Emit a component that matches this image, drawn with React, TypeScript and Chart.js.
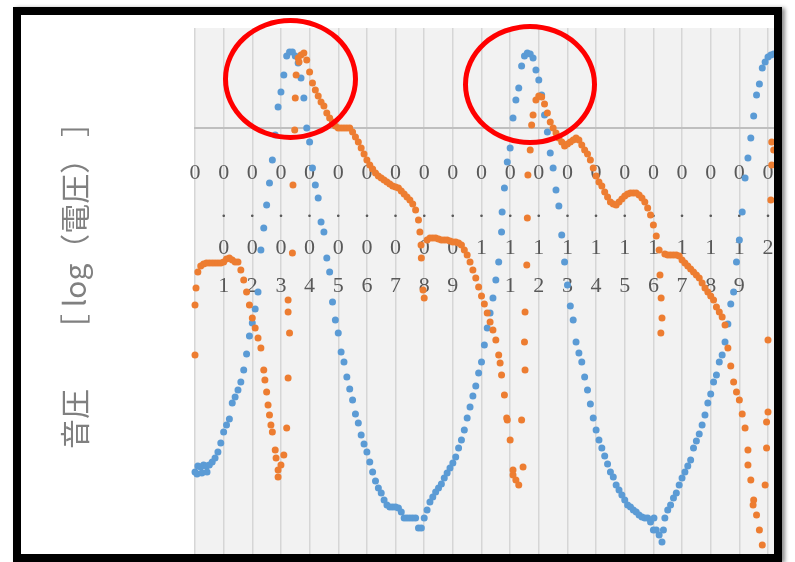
import { useEffect, useRef } from "react";
import { Chart, registerables } from "chart.js";

Chart.register(...registerables);

// sample interval of the uniform series (milliseconds)
const SAMPLE_MS = 1;

// 音圧 (blue) — log values, one per ms starting at 0 ms
const pressureLog = [
  -3.44, -3.38, -3.39, -3.37, -3.38, -3.37, -3.34, -3.30, -3.24, -3.15,
  -3.04, -2.97, -2.91, -2.75, -2.69, -2.62, -2.54, -2.42, -2.26, -2.08,
  -1.95, -1.81, -1.64, -1.22, -1.00, -0.77, -0.55, -0.32, -0.07, 0.21,
  0.36, 0.53, 0.72, 0.76, 0.76, 0.72, 0.65, 0.50, 0.30, 0.00,
  -0.14, -0.40, -0.57, -0.70, -0.94, -1.04, -1.30, -1.44, -1.74, -1.92,
  -2.05, -2.24, -2.34, -2.49, -2.61, -2.72, -2.86, -2.95, -3.07, -3.16,
  -3.24, -3.34, -3.44, -3.53, -3.60, -3.65, -3.72, -3.77, -3.79, -3.79,
  -3.79, -3.80, -3.84, -3.90, -3.90, -3.90, -3.90, -3.90, -4.00, -4.00,
  -3.90, -3.82, -3.74, -3.69, -3.64, -3.60, -3.56, -3.50, -3.45, -3.40,
  -3.35, -3.29, -3.20, -3.12, -3.02, -2.90, -2.79, -2.68, -2.58, -2.45,
  -2.34, -2.17, -2.00, -1.85, -1.70, -1.52, -1.34, -1.04, -0.60, -0.34,
  -0.20, 0.10, 0.28, 0.40, 0.62, 0.72, 0.75, 0.74, 0.70, 0.58,
  0.48, 0.33, 0.13, -0.04, -0.25, -0.40, -0.62, -0.78, -1.07, -1.34,
  -1.57, -1.78, -1.92, -2.14, -2.25, -2.34, -2.49, -2.62, -2.76, -2.90,
  -3.02, -3.12, -3.20, -3.28, -3.36, -3.44, -3.49, -3.57, -3.62, -3.67,
  -3.72, -3.77, -3.79, -3.82, -3.84, -3.87, -3.89, -3.90, -3.90, -3.94,
  -4.02, -4.02, -4.07, -4.14, -3.90, -3.82, -3.77, -3.70, -3.65, -3.57,
  -3.50, -3.44, -3.38, -3.32, -3.20, -3.13, -3.06, -2.97, -2.87, -2.75,
  -2.66, -2.54, -2.47, -2.34, -2.27, -2.14, -1.96, -1.76, -1.64, -1.34,
  -1.12, -0.84, -0.50, -0.30, -0.10, 0.12, 0.33, 0.44, 0.60, 0.66,
  0.71, 0.73, 0.74,
];

// extra 音圧 samples (time ms, log value)
const pressureExtraT = [0.7, 2.4, 4.2, 107.2, 160.2, 163.5];
const pressureExtraV = [-3.46, -3.45, -3.44, -0.84, -3.90, -4.02];

// 電圧 (orange) — log values, one per ms starting at 0 ms
const voltageLog = [
  -1.77, -1.44, -1.38, -1.36, -1.35, -1.35, -1.35, -1.35, -1.35, -1.35,
  -1.34, -1.31, -1.30, -1.32, -1.34, -1.34, -1.42, -1.52, -1.64, -1.77,
  -1.90, -2.00, -2.10, -2.20, -2.42, -2.64, -2.87, -3.04, -3.22, -3.42,
  -3.37, -3.27, -3.00, -2.05, -1.25, 0.30, 0.70, 0.73, 0.75, 0.68,
  0.56, 0.45, 0.38, 0.32, 0.26, 0.22, 0.15, 0.10, 0.06, 0.02,
  0.00, 0.00, 0.00, 0.00, 0.00, -0.04, -0.09, -0.14, -0.20, -0.26,
  -0.32, -0.37, -0.41, -0.45, -0.48, -0.50, -0.52, -0.54, -0.56, -0.58,
  -0.59, -0.60, -0.63, -0.66, -0.69, -0.72, -0.76, -0.82, -0.92, -1.30,
  -1.70, -1.12, -1.10, -1.10, -1.10, -1.11, -1.12, -1.12, -1.12, -1.13,
  -1.14, -1.14, -1.15, -1.17, -1.22, -1.27, -1.34, -1.42, -1.50, -1.59,
  -1.68, -1.76, -1.85, -1.94, -2.02, -2.12, -2.27, -2.47, -2.67, -2.92,
  -3.12, -3.42, -3.52, -3.57, -2.92, -2.14, -0.90, -0.22, 0.13, 0.28,
  0.32, 0.31, 0.24, 0.15, 0.06, 0.00, -0.05, -0.10, -0.14, -0.18,
  -0.16, -0.14, -0.12, -0.10, -0.12, -0.17, -0.22, -0.26, -0.32, -0.40,
  -0.48, -0.54, -0.58, -0.64, -0.69, -0.74, -0.76, -0.77, -0.74, -0.71,
  -0.68, -0.66, -0.65, -0.65, -0.65, -0.67, -0.70, -0.74, -0.80, -0.87,
  -0.97, -1.08, -1.22, -1.90, -1.26, -1.27, -1.27, -1.27, -1.27, -1.28,
  -1.32, -1.35, -1.38, -1.41, -1.44, -1.47, -1.50, -1.55, -1.60, -1.64,
  -1.68, -1.72, -1.79, -1.84, -1.89, -1.97, -2.20, -2.38, -2.54, -2.64,
  -2.72, -2.86, -3.00, -3.22, -3.52, -3.72, -3.87, -4.02, -4.17, -3.57,
  -2.84, -0.72, -0.22,
];

// extra 電圧 samples (time ms, log value) — fast transitions
const voltageExtraT = [
  0, 0.35, 24.4, 25.5, 26.5, 28.3, 29.0, 32.5, 32.5, 32.5,
  34.2, 34.8, 35.3, 36.3, 78.5, 78.9, 79.6, 106.5, 108.8, 111.0,
  114.5, 115.2, 115.2, 115.8, 116.2, 117.5, 162.3, 162.7, 162.6, 193.0,
  194.8, 199.5, 199.5, 200.0, 201.3, 201.3,
];
const voltageExtraV = [
  -2.27, -1.60, -2.52, -2.77, -2.97, -3.30, -3.49, -2.50, -1.84, -1.72,
  -0.57, -0.02, 0.53, 0.66, -1.04, -1.17, -1.62, -2.35, -2.90, -3.47,
  -3.39, -2.42, -1.84, -1.37, -0.47, 0.03, -1.47, -1.70, -2.05, -3.37,
  -3.77, -2.94, -3.20, -2.12, -0.14, -0.37,
];

// axes
const X_MIN_MS = 0;
const X_MAX_MS = 210;
const X_TICK_MS = 10;
const Y_MIN = -4.3;
const Y_MAX = 1;
const Y_TITLE = "　音圧　　［ log（電圧） ］";

const BLUE = "#5b9bd5";
const ORANGE = "#ed7d31";

const CANVAS_W = 830;
const CANVAS_H = 580;
const PLOT_LEFT = 195;
const PLOT_TOP = 28;
const PLOT_RIGHT = 796.65;
const PLOT_BOTTOM = 558;

function buildPoints(values: number[], extraT: number[], extraV: number[]) {
  const pts = values.map((v, i) => ({ x: i * SAMPLE_MS, y: v }));
  extraT.forEach((t, k) => pts.push({ x: t, y: extraV[k] }));
  return pts;
}

function tickLabel(value: number | string): string[] {
  const ms = Math.round(Number(value));
  if (ms === 0) return ["0"];
  return String(ms / 1000).split("");
}

const plotBackground = {
  id: "plotBackground",
  beforeDraw(chart: any) {
    const { ctx, chartArea: a } = chart;
    ctx.save();
    ctx.fillStyle = "#f2f2f2";
    ctx.fillRect(a.left, a.top, a.right - a.left, a.bottom - a.top);
    ctx.restore();
  },
};

export default function App() {
  const ref = useRef<HTMLCanvasElement | null>(null);

  useEffect(() => {
    if (!ref.current) return;
    const chart = new Chart(ref.current, {
      type: "scatter",
      data: {
        datasets: [
          {
            label: "電圧",
            data: buildPoints(voltageLog, voltageExtraT, voltageExtraV),
            backgroundColor: ORANGE,
            borderColor: ORANGE,
            borderWidth: 0,
            pointRadius: 3.5,
            clip: false as any,
            order: 0,
          },
          {
            label: "音圧",
            data: buildPoints(pressureLog, pressureExtraT, pressureExtraV),
            backgroundColor: BLUE,
            borderColor: BLUE,
            borderWidth: 0,
            pointRadius: 3.5,
            clip: false as any,
            order: 1,
          },
        ],
      },
      options: {
        animation: false,
        responsive: false,
        maintainAspectRatio: false,
        devicePixelRatio: 1,
        layout: {
          padding: {
            left: 0,
            top: PLOT_TOP,
            right: CANVAS_W - PLOT_RIGHT,
            bottom: CANVAS_H - PLOT_BOTTOM,
          },
        },
        plugins: {
          legend: { display: false },
          tooltip: { enabled: false },
        },
        scales: {
          x: {
            type: "linear",
            position: { y: 0 } as any,
            min: X_MIN_MS,
            max: X_MAX_MS,
            grid: { color: "#d6d6d6", lineWidth: 1.5, drawTicks: false },
            border: { display: true, color: "#bfbfbf", width: 2 },
            ticks: {
              stepSize: X_TICK_MS,
              autoSkip: false,
              maxRotation: 0,
              minRotation: 0,
              padding: 26,
              color: "#595959",
              font: { family: "'Liberation Serif', serif", size: 22, lineHeight: 1.72 },
              callback: (v: any) => tickLabel(v),
            },
          },
          y: {
            type: "linear",
            min: Y_MIN,
            max: Y_MAX,
            grid: { display: false, drawTicks: false },
            border: { display: false },
            ticks: { display: false },
            title: {
              display: true,
              text: Y_TITLE,
              color: "#808080",
              font: { family: "'Noto Sans CJK JP', sans-serif", size: 30, lineHeight: 1.2 },
              padding: { top: 57, bottom: 0 },
            },
            afterFit: (s: any) => {
              s.width = PLOT_LEFT;
            },
          },
        },
      },
      plugins: [plotBackground],
    });
    return () => chart.destroy();
  }, []);

  const ellipse = (left: number, top: number, w: number, h: number) => (
    <div
      style={{
        position: "absolute",
        left,
        top,
        width: w,
        height: h,
        border: "5px solid #ff0000",
        borderRadius: "50%",
        boxSizing: "border-box",
      }}
    />
  );

  return (
    <div
      style={{
        position: "fixed",
        left: 0,
        top: 0,
        width: 795,
        height: 562,
        background: "#ffffff",
        overflow: "hidden",
      }}
    >
      <div
        style={{
          position: "absolute",
          left: 21,
          top: 15,
          width: 753,
          height: 539,
          overflow: "hidden",
          background: "#ffffff",
        }}
      >
        <canvas
          ref={ref}
          width={CANVAS_W}
          height={CANVAS_H}
          style={{ position: "absolute", left: -21, top: -15, width: CANVAS_W, height: CANVAS_H }}
        />
      </div>
      <div
        style={{
          position: "absolute",
          left: 13,
          top: 7,
          width: 769,
          height: 555,
          border: "8px solid #000",
          boxSizing: "border-box",
          boxShadow: "3px 1px 4px rgba(0,0,0,0.45)",
        }}
      />
      {ellipse(223, 18, 135, 122)}
      {ellipse(463, 24, 134, 121)}
    </div>
  );
}
